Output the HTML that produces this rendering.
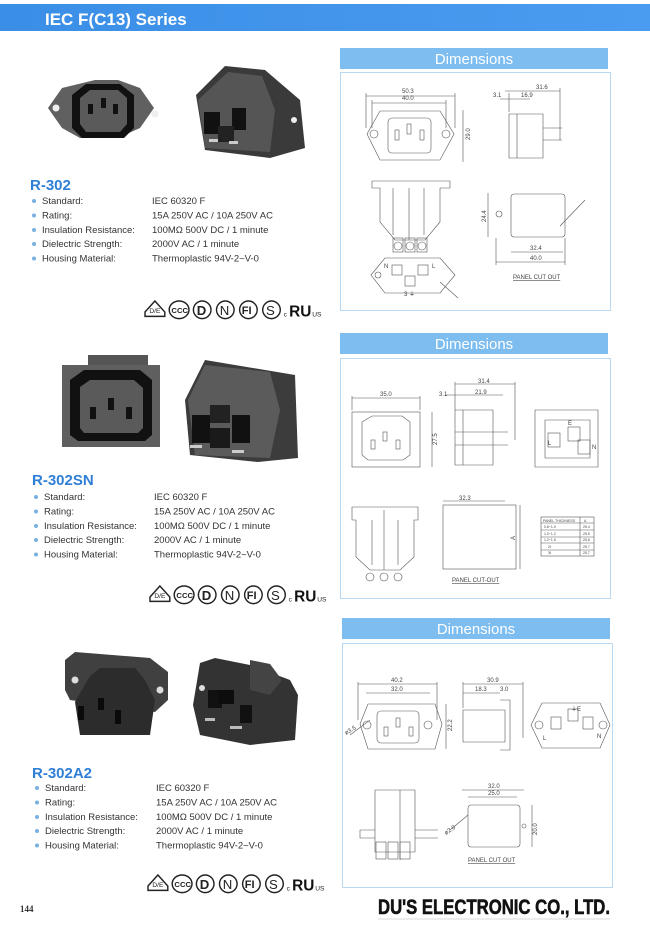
<!DOCTYPE html>
<html><head><meta charset="utf-8"><style>
html,body{margin:0;padding:0;background:#fff;}
body{width:650px;height:930px;overflow:hidden;position:relative;font-family:"Liberation Sans",sans-serif;}
svg{position:absolute;left:0;top:0;}
</style></head><body>
<svg width="650" height="930" viewBox="0 0 650 930" xmlns="http://www.w3.org/2000/svg" font-family="Liberation Sans, sans-serif">
<defs>
<linearGradient id="hb" x1="0" x2="1"><stop offset="0" stop-color="#3a8ee6"/><stop offset="1" stop-color="#4a9cf0"/></linearGradient>
<g id="certs" fill="none" stroke="#222" stroke-width="1.3">
<path d="M0,10 L9,0 L18,10 L18,14 L0,14 Z"/><text x="4" y="11" font-size="6" fill="#222" stroke="none">D/E</text>
<ellipse cx="31" cy="8" rx="9" ry="8"/><text x="24" y="11" font-size="7" fill="#222" stroke="none" font-weight="bold">CCC</text>
<circle cx="52" cy="8" r="8"/><text x="47" y="12.5" font-size="12" fill="#222" stroke="none" font-weight="bold">D</text>
<circle cx="73" cy="8" r="8"/><text x="68" y="12.5" font-size="12" fill="#222" stroke="none">N</text>
<circle cx="94" cy="8" r="8"/><text x="88" y="12" font-size="10" fill="#222" stroke="none" font-weight="bold">FI</text>
<circle cx="115" cy="8" r="8"/><text x="110" y="12.5" font-size="12" fill="#222" stroke="none">S</text>
<text x="126" y="14" font-size="6" fill="#222" stroke="none">c</text>
<text x="131" y="14" font-size="14" fill="#111" stroke="none" font-weight="bold">RU</text>
<text x="152" y="14" font-size="6" fill="#222" stroke="none">US</text>
</g>
</defs>

<rect x="0" y="4" width="650" height="27" fill="url(#hb)"/>
<text x="45" y="25" font-size="17" font-weight="bold" fill="#fff">IEC F(C13) Series</text>

<g>
<path d="M48,108 L62,88 L95,80 L118,80 L140,88 L154,108 L140,128 L118,138 L80,138 L62,128 Z" fill="#606060"/>
<path d="M72,95 L86,84 L120,84 L134,95 L134,128 L124,138 L82,138 L72,128 Z" fill="#111"/>
<path d="M80,98 L90,90 L118,90 L127,98 L127,124 L120,132 L86,132 L80,124 Z" fill="#5a5a5a"/>
<rect x="88" y="104" width="5" height="10" fill="#111"/><rect x="101" y="98" width="5" height="10" fill="#111"/><rect x="113" y="104" width="5" height="10" fill="#111"/>
<circle cx="56" cy="108" r="3.5" fill="#eee"/><circle cx="155" cy="114" r="3.5" fill="#eee"/>
<path d="M196,95 L225,66 L265,70 L300,100 L305,148 L270,158 L205,150 Z" fill="#3a3a3a"/>
<path d="M198,100 L228,72 L262,76 L275,110 L270,152 L205,148 Z" fill="#555"/>
<rect x="204" y="112" width="16" height="22" fill="#111"/><rect x="232" y="108" width="14" height="22" fill="#111"/>
<rect x="218" y="126" width="16" height="16" fill="#222"/>
<rect x="209" y="139" width="9" height="3" fill="#ccc"/><rect x="229" y="141" width="9" height="3" fill="#ccc"/>
<circle cx="294" cy="120" r="3" fill="#eee"/>
</g>

<text x="30" y="190" font-size="15" font-weight="bold" fill="#2f7fd6">R-302</text>
<g font-size="9.5" fill="#333">
<g fill="#7ab0e0"><circle cx="34" cy="201" r="2"/><circle cx="34" cy="215.5" r="2"/><circle cx="34" cy="230" r="2"/><circle cx="34" cy="244" r="2"/><circle cx="34" cy="258.5" r="2"/></g>
<text x="42" y="204">Standard:</text><text x="152" y="204">IEC 60320 F</text>
<text x="42" y="218.5">Rating:</text><text x="152" y="218.5">15A 250V AC / 10A 250V AC</text>
<text x="42" y="233">Insulation Resistance:</text><text x="152" y="233">100MΩ 500V DC / 1 minute</text>
<text x="42" y="247">Dielectric Strength:</text><text x="152" y="247">2000V AC / 1 minute</text>
<text x="42" y="261.5">Housing Material:</text><text x="152" y="261.5">Thermoplastic 94V-2~V-0</text>
</g>
<use href="#certs" transform="translate(145,301) scale(1.1)"/>

<rect x="340" y="48" width="268" height="21" fill="#7dbdf0"/>
<text x="474" y="64" font-size="15" fill="#fff" text-anchor="middle">Dimensions</text>
<rect x="340.5" y="72.5" width="270" height="238" fill="none" stroke="#b9d8f2"/>
<g fill="none" stroke="#555" stroke-width="0.6" font-size="6">
<path d="M367,134 L380,111 L440,111 L454,134 L440,160 L380,160 Z"/>
<rect x="388" y="118" width="43" height="35" rx="4"/>
<rect x="395" y="130" width="4" height="10"/><rect x="407" y="124" width="4" height="10"/><rect x="420" y="130" width="4" height="10"/>
<circle cx="374" cy="134" r="4"/><circle cx="446" cy="134" r="4"/>
<path d="M366,96 L455,96 M372,103 L446,103 M366,93 L366,128 M455,93 L455,128 M372,100 L372,128 M446,100 L446,128 M463,110 L463,162"/>
<path d="M509,114 L543,114 L543,158 L509,158 Z M517,114 L517,158 M509,93 L509,112 M560,88 L560,140 M505,91 L560,91 M500,99 L530,99 M543,128 L562,128 M543,140 L562,140"/>
<path d="M372,181 L450,181 L450,188 L440,188 L440,222 L425,240 L395,240 L380,222 L380,188 L372,188 Z M393,188 L393,235 M409,188 L409,240 M424,188 L424,235"/>
<circle cx="398" cy="246" r="4"/><circle cx="410" cy="246" r="4"/><circle cx="422" cy="246" r="4"/>
<rect x="393" y="238" width="10" height="14"/><rect x="405" y="238" width="10" height="14"/><rect x="417" y="238" width="10" height="14"/>
<rect x="511" y="194" width="54" height="43" rx="3"/>
<circle cx="499" cy="214" r="3"/>
<path d="M488,193 L488,237 M511,252 L563,252 M496,262 L565,262 M496,238 L496,265 M565,238 L565,265 M560,226 L585,200"/>
<path d="M371,275 L385,258 L440,258 L455,275 L440,293 L385,293 Z"/>
<rect x="392" y="265" width="10" height="10"/><rect x="418" y="265" width="10" height="10"/><rect x="405" y="276" width="10" height="10"/>
<circle cx="378" cy="275" r="3"/><path d="M440,282 L458,298"/>
</g>
<g font-size="6" fill="#444">
<text x="402" y="93">50.3</text><text x="402" y="100">40.0</text>
<text x="470" y="140" transform="rotate(-90 470 140)">29.0</text>
<text x="536" y="89">31.6</text><text x="493" y="97">3.1</text><text x="521" y="97">16.9</text>
<text x="486" y="222" transform="rotate(-90 486 222)">24.4</text>
<text x="530" y="250">32.4</text><text x="530" y="260">40.0</text>
<text x="513" y="279" text-decoration="underline">PANEL CUT OUT</text>
<text x="384" y="268">N</text><text x="432" y="268">L</text><text x="404" y="296">3 ⏚</text>
</g>

<g>
<rect x="88" y="355" width="60" height="10" fill="#555"/>
<rect x="62" y="365" width="98" height="82" fill="#5f5f5f"/>
<path d="M70,380 L84,370 L140,370 L152,380 L152,435 L145,441 L78,441 L70,435 Z" fill="#111"/>
<path d="M80,387 L90,380 L134,380 L143,388 L143,428 L138,433 L84,433 L80,428 Z" fill="#5a5a5a"/>
<rect x="90" y="407" width="6" height="12" fill="#111"/><rect x="108" y="398" width="6" height="12" fill="#111"/><rect x="126" y="407" width="6" height="12" fill="#111"/>
<path d="M205,360 L295,375 L298,458 L258,462 L190,455 L185,400 Z" fill="#3c3c3c"/>
<path d="M188,400 L205,365 L270,372 L280,410 L270,458 L195,455 Z" fill="#5b5b5b"/>
<rect x="192" y="415" width="18" height="28" fill="#111"/><rect x="232" y="415" width="18" height="28" fill="#111"/>
<rect x="210" y="405" width="20" height="18" fill="#222"/><rect x="210" y="428" width="20" height="20" fill="#1a1a1a"/>
<rect x="190" y="445" width="12" height="3" fill="#ccc"/><rect x="232" y="450" width="12" height="3" fill="#ccc"/>
</g>
<text x="32" y="485" font-size="15" font-weight="bold" fill="#2f7fd6">R-302SN</text>
<g font-size="9.5" fill="#333">
<g fill="#7ab0e0"><circle cx="36" cy="497" r="2"/><circle cx="36" cy="511.5" r="2"/><circle cx="36" cy="526" r="2"/><circle cx="36" cy="540" r="2"/><circle cx="36" cy="554.5" r="2"/></g>
<text x="44" y="500">Standard:</text><text x="154" y="500">IEC 60320 F</text>
<text x="44" y="514.5">Rating:</text><text x="154" y="514.5">15A 250V AC / 10A 250V AC</text>
<text x="44" y="529">Insulation Resistance:</text><text x="154" y="529">100MΩ 500V DC / 1 minute</text>
<text x="44" y="543">Dielectric Strength:</text><text x="154" y="543">2000V AC / 1 minute</text>
<text x="44" y="557.5">Housing Material:</text><text x="154" y="557.5">Thermoplastic 94V-2~V-0</text>
</g>
<use href="#certs" transform="translate(150,586) scale(1.1)"/>

<rect x="340" y="333" width="268" height="21" fill="#7dbdf0"/>
<text x="474" y="349" font-size="15" fill="#fff" text-anchor="middle">Dimensions</text>
<rect x="340.5" y="358.5" width="270" height="240" fill="none" stroke="#b9d8f2"/>
<g fill="none" stroke="#555" stroke-width="0.6">
<rect x="352" y="412" width="68" height="55"/>
<path d="M362,422 L372,416 L402,416 L410,422 L410,455 L403,460 L368,460 L362,455 Z"/>
<rect x="371" y="440" width="4" height="9"/><rect x="383" y="432" width="4" height="9"/><rect x="396" y="440" width="4" height="9"/>
<path d="M352,398 L420,398 M352,396 L352,410 M420,396 L420,410 M432,412 L432,467"/>
<path d="M455,410 L493,410 L493,465 L455,465 Z M463,410 L463,465 M455,432 L508,432 M455,445 L508,445 M455,384 L515,384 M445,395 L503,395 M455,382 L455,410 M515,382 L515,440"/>
<path d="M535,410 L598,410 L598,467 L535,467 Z M545,420 L590,420 L590,458 L545,458 Z"/>
<rect x="548" y="433" width="12" height="14"/><rect x="568" y="427" width="12" height="14"/><rect x="578" y="440" width="12" height="14"/>
<path d="M352,507 L418,507 L418,520 L414,520 L414,557 L400,570 L370,570 L356,557 L356,520 L352,520 Z M372,520 L372,565 M384,510 L384,570 M398,520 L398,565"/>
<circle cx="370" cy="577" r="4"/><circle cx="384" cy="577" r="4"/><circle cx="398" cy="577" r="4"/>
<rect x="443" y="505" width="73" height="64"/>
<path d="M443,501 L505,501 M520,505 L520,569"/>
<rect x="541" y="517" width="53" height="39"/>
<path d="M541,523 L594,523 M541,530 L594,530 M541,537 L594,537 M541,543 L594,543 M541,550 L594,550 M580,517 L580,556"/>
</g>
<g font-size="6" fill="#444">
<text x="380" y="396">35.0</text><text x="437" y="445" transform="rotate(-90 437 445)">27.5</text>
<text x="478" y="383">31.4</text><text x="439" y="396">3.1</text><text x="475" y="394">21.9</text>
<text x="548" y="445">L</text><text x="592" y="449">N</text><text x="568" y="425">E</text>
<text x="459" y="500">32.3</text><text x="515" y="540" transform="rotate(-90 515 540)">A</text>
<text x="452" y="582" text-decoration="underline">PANEL CUT-OUT</text>
<g font-size="3.5"><text x="543" y="522">PANEL THICKNESS</text><text x="584" y="522">A</text>
<text x="544" y="528">0.8~1.0</text><text x="583" y="528">25.4</text><text x="544" y="535">1.0~1.2</text><text x="583" y="535">25.5</text>
<text x="544" y="541">1.2~1.5</text><text x="583" y="541">25.6</text><text x="548" y="548">2t</text><text x="583" y="548">25.7</text>
<text x="548" y="554">3t</text><text x="583" y="554">25.7</text></g>
</g>

<g>
<path d="M65,660 L75,652 L150,658 L168,672 L168,700 L155,712 L70,700 L65,690 Z" fill="#404040"/>
<path d="M90,676 L100,668 L135,668 L145,680 L155,700 L150,735 L80,735 L75,702 Z" fill="#2c2c2c"/>
<rect x="78" y="706" width="6" height="14" fill="#0a0a0a"/><rect x="98" y="698" width="6" height="12" fill="#0a0a0a"/><rect x="115" y="710" width="6" height="14" fill="#0a0a0a"/>
<circle cx="75" cy="680" r="3.5" fill="#ddd"/><circle cx="160" cy="690" r="3.5" fill="#ddd"/>
<path d="M200,663 L215,658 L250,665 L290,680 L298,695 L295,740 L250,745 L200,735 L193,705 Z" fill="#333"/>
<path d="M250,660 L270,664 L282,680 L270,695 L250,690 Z" fill="#444"/>
<rect x="208" y="690" width="14" height="18" fill="#111"/><rect x="218" y="690" width="16" height="14" fill="#0d0d0d"/><rect x="240" y="705" width="12" height="18" fill="#111"/>
<rect x="205" y="718" width="10" height="3" fill="#bbb"/><rect x="230" y="726" width="12" height="3" fill="#bbb"/>
<circle cx="202" cy="688" r="3" fill="#ddd"/>
</g>
<text x="32" y="778" font-size="15" font-weight="bold" fill="#2f7fd6">R-302A2</text>
<g font-size="9.5" fill="#333">
<g fill="#7ab0e0"><circle cx="37" cy="788" r="2"/><circle cx="37" cy="802.5" r="2"/><circle cx="37" cy="817" r="2"/><circle cx="37" cy="831" r="2"/><circle cx="37" cy="845.5" r="2"/></g>
<text x="45" y="791">Standard:</text><text x="156" y="791">IEC 60320 F</text>
<text x="45" y="805.5">Rating:</text><text x="156" y="805.5">15A 250V AC / 10A 250V AC</text>
<text x="45" y="820">Insulation Resistance:</text><text x="156" y="820">100MΩ 500V DC / 1 minute</text>
<text x="45" y="834">Dielectric Strength:</text><text x="156" y="834">2000V AC / 1 minute</text>
<text x="45" y="848.5">Housing Material:</text><text x="156" y="848.5">Thermoplastic 94V-2~V-0</text>
</g>
<use href="#certs" transform="translate(148,875) scale(1.1)"/>

<rect x="342" y="618" width="268" height="21" fill="#7dbdf0"/>
<text x="476" y="634" font-size="15" fill="#fff" text-anchor="middle">Dimensions</text>
<rect x="342.5" y="643.5" width="270" height="244" fill="none" stroke="#b9d8f2"/>
<g fill="none" stroke="#555" stroke-width="0.6">
<path d="M360,724 L368,704 L435,704 L442,724 L435,749 L368,749 Z"/>
<rect x="377" y="711" width="42" height="32" rx="4"/>
<rect x="384" y="727" width="4" height="9"/><rect x="396" y="718" width="4" height="9"/><rect x="409" y="727" width="4" height="9"/>
<circle cx="367" cy="725" r="4"/><circle cx="428" cy="725" r="4"/>
<path d="M358,684 L437,684 M366,693 L430,693 M358,682 L358,720 M437,682 L437,720 M446,704 L446,749 M350,735 L370,720"/>
<path d="M463,710 L505,710 L505,742 L463,742 Z M500,700 L510,700 L510,750 L500,750 M463,684 L523,684 M463,693 L500,693 M463,682 L463,708 M523,682 L523,738"/>
<path d="M531,725 L542,703 L600,703 L610,725 L600,748 L542,748 Z"/>
<circle cx="539" cy="725" r="4"/><circle cx="603" cy="725" r="4"/>
<rect x="551" y="717" width="10" height="12"/><rect x="568" y="709" width="10" height="12"/><rect x="583" y="717" width="10" height="12"/>
<path d="M375,790 L415,790 L415,852 L375,852 Z M400,790 L400,860 M360,830 L375,830 L375,838 L360,838 Z M415,830 L438,830 M415,838 L438,838"/>
<rect x="376" y="842" width="10" height="17"/><rect x="388" y="842" width="10" height="17"/><rect x="400" y="842" width="10" height="17"/>
<rect x="468" y="805" width="52" height="42" rx="3"/>
<path d="M462,790 L524,790 M468,797 L517,797 M532,805 L532,847 M450,830 L468,815"/>
<circle cx="524" cy="826" r="2"/>
</g>
<g font-size="6" fill="#444">
<text x="391" y="682">40.2</text><text x="391" y="691">32.0</text>
<text x="452" y="731" transform="rotate(-90 452 731)">22.2</text><text x="346" y="735" transform="rotate(-30 346 735)">ø3.5</text>
<text x="487" y="682">30.9</text><text x="475" y="691">18.3</text><text x="500" y="691">3.0</text>
<text x="543" y="740">L</text><text x="597" y="738">N</text><text x="571" y="711">⏚E</text>
<text x="488" y="788">32.0</text><text x="488" y="795">25.0</text>
<text x="537" y="835" transform="rotate(-90 537 835)">20.0</text><text x="446" y="835" transform="rotate(-35 446 835)">ø2.0</text>
<text x="468" y="862" text-decoration="underline">PANEL CUT OUT</text>
</g>

<text x="20" y="912" font-size="9" font-family="Liberation Serif, serif" font-weight="bold" fill="#333">144</text>
<text x="378" y="914" font-size="21" font-weight="bold" fill="#111" stroke="#111" stroke-width="0.6" textLength="232" lengthAdjust="spacingAndGlyphs">DU'S ELECTRONIC CO., LTD.</text>
<line x1="378" y1="919" x2="610" y2="919" stroke="#ccc" stroke-width="0.8"/>
</svg>
</body></html>
